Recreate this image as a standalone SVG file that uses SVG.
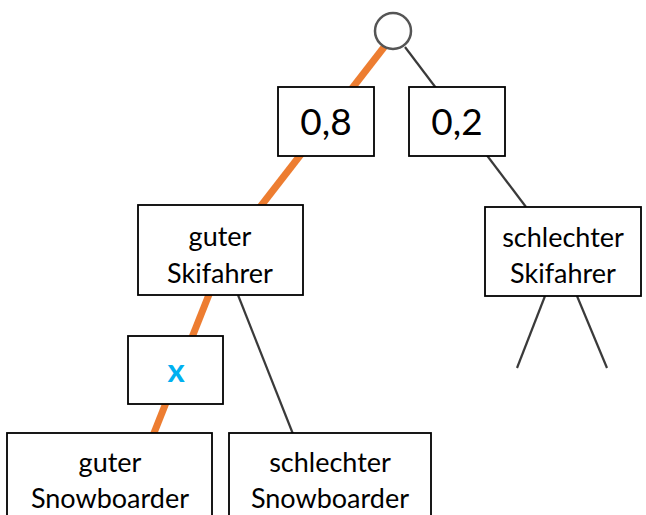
<svg xmlns="http://www.w3.org/2000/svg" width="646" height="515" viewBox="0 0 646 515">
<style>
.box{fill:#fff;stroke:#000;stroke-width:1.8}
.t{font-family:Lato,"Liberation Sans",sans-serif;font-size:27px;fill:#000;text-anchor:middle}
.p{font-size:37px}
.g{stroke:#3a3a3a;stroke-width:2.2;fill:none}
.o{stroke:#ED7D31;stroke-width:7;fill:none}
</style>
<rect width="646" height="515" fill="#fff"/>
<g id="connectors">
<line class="g" x1="405" y1="47" x2="526" y2="207"/>
<line class="g" x1="238" y1="295" x2="293" y2="434"/>
<line class="g" x1="545" y1="296" x2="517" y2="368"/>
<line class="g" x1="577" y1="296" x2="607" y2="368"/>
<line class="o" x1="388" y1="42" x2="257" y2="211"/>
<line class="o" x1="210" y1="292" x2="152" y2="438"/>
</g>
<g id="root"><circle cx="393" cy="31" r="18" fill="#fff" stroke="#555" stroke-width="2.5"/></g>
<g id="p08"><rect class="box" x="278" y="87" width="96" height="69"/><text class="t p" x="326" y="135">0,8</text></g>
<g id="p02"><rect class="box" x="409" y="87" width="96" height="69"/><text class="t p" x="457" y="135">0,2</text></g>
<g id="gutSki"><rect class="box" x="138" y="205" width="165" height="90"/><text class="t" x="220" y="246">guter</text><text class="t" x="220" y="283">Skifahrer</text></g>
<g id="schSki"><rect class="box" x="485" y="207" width="156" height="89"/><text class="t" x="563" y="247">schlechter</text><text class="t" x="563" y="283">Skifahrer</text></g>
<g id="x"><rect class="box" x="128" y="336" width="95" height="68"/><text class="t" x="176" y="382" style="fill:#00B0F0;font-weight:bold;font-size:33px">x</text></g>
<g id="gutSnow"><rect class="box" x="7" y="433" width="205" height="100"/><text class="t" x="110" y="472">guter</text><text class="t" x="110" y="508">Snowboarder</text></g>
<g id="schSnow"><rect class="box" x="229" y="433" width="202" height="100"/><text class="t" x="330" y="472">schlechter</text><text class="t" x="330" y="508">Snowboarder</text></g>
</svg>
